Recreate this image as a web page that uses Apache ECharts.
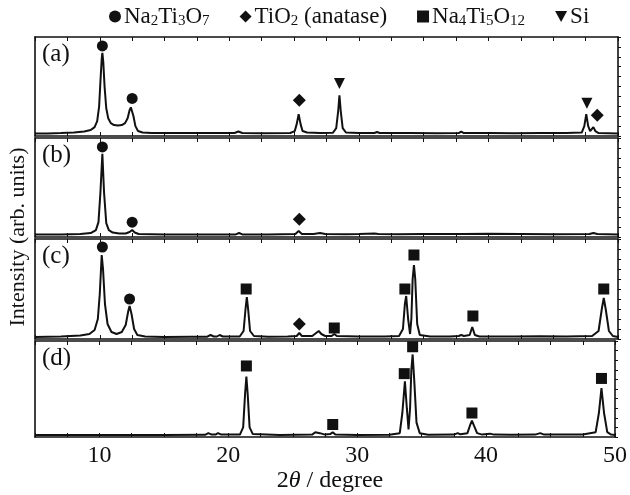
<!DOCTYPE html>
<html>
<head>
<meta charset="utf-8">
<script src="https://cdn.jsdelivr.net/npm/echarts@6/dist/echarts.min.js"></script>
<style>
  html, body { margin: 0; padding: 0; background: #fff; }
  #chart { width: 630px; height: 495px; }
</style>
</head>
<body>
<div id="chart"></div>
<script>
// tick labels on the 2theta axis
var xTickLabels = [10, 20, 30, 40, 50];
var panelNames = ['(a)', '(b)', '(c)', '(d)'];

// XRD traces, [2theta, intensity in % of panel height]
var curveA = [[5,2.5],[6,2.6],[7,3],[8,3.5],[8.8,4.5],[9.3,6],[9.6,9],[9.8,15],[9.95,30],[10.05,55],[10.15,78],[10.2,84],[10.27,75],[10.37,50],[10.5,28],[10.65,18],[10.85,13],[11.1,11],[11.4,10.5],[11.7,11],[11.95,13],[12.15,18],[12.3,26],[12.4,29],[12.5,27],[12.6,20],[12.75,10],[12.95,5],[13.3,3.5],[14,3],[16,3],[18,3],[20.4,3],[20.7,4.5],[21,3],[22.5,2.8],[24.7,3],[25.05,5],[25.2,12],[25.35,22],[25.5,12],[25.65,5],[26,3.5],[27,3],[28,3.3],[28.25,8],[28.4,25],[28.5,41],[28.6,25],[28.75,8],[29,3.5],[30,3],[31.2,3],[31.4,4],[31.6,3],[34,3],[36,2.8],[37.7,3],[37.9,4.5],[38.1,3],[40,3],[42,2.8],[44,3],[46,3],[47.2,3.5],[47.4,10],[47.55,22],[47.7,10],[47.85,5],[48.0,7],[48.1,9],[48.25,5],[48.5,3],[50,2.5]];
var curveB = [[5,2.4],[7,2.6],[8.5,3],[9.3,4],[9.7,7],[9.9,15],[10.05,45],[10.2,84],[10.33,45],[10.5,14],[10.7,7],[11,4.5],[11.5,3.5],[12,3.5],[12.3,5],[12.5,7],[12.7,4.5],[13,3],[15,2.6],[18,2.6],[20.5,2.6],[20.75,4],[21,2.6],[23,2.6],[25.1,3],[25.35,6],[25.6,3],[26.5,3],[27,4],[27.4,3],[29,2.8],[30,3],[31.2,3.5],[31.5,3],[33,2.8],[35,3],[38,3],[40,3.2],[45,2.8],[47.8,3],[48.1,4],[48.4,3],[50,2.6]];
var curveC = [[5,2],[7,2.5],[8.5,3.5],[9.2,5],[9.6,9],[9.85,20],[10.0,45],[10.15,84],[10.25,70],[10.4,35],[10.6,15],[10.9,7],[11.3,5],[11.7,7],[12.0,14],[12.2,28],[12.3,33],[12.45,25],[12.65,10],[12.9,4],[13.5,2.5],[15,2],[17,2.3],[18.3,2.3],[18.55,4],[18.8,2.5],[19.05,2.5],[19.25,4],[19.5,2.5],[20.8,2.5],[21.1,8],[21.25,30],[21.35,42],[21.45,30],[21.6,8],[21.9,3],[23,2.2],[24.5,2.5],[25.2,3],[25.4,6],[25.6,3],[26.4,3],[26.7,6],[26.9,8],[27.1,5],[27.4,3],[27.9,3],[28.1,5],[28.3,3],[30,2.5],[32,2.5],[33.1,3],[33.4,10],[33.55,35],[33.65,43],[33.8,20],[33.95,5],[34.05,20],[34.15,60],[34.25,74],[34.35,60],[34.5,15],[34.7,4],[35.5,2.5],[37,2.5],[37.7,3],[37.9,4],[38.1,3],[38.55,4],[38.75,12],[38.95,4],[39.3,2.5],[42,2.5],[44,2.8],[46,2.6],[48,3],[48.5,8],[48.75,30],[48.9,41],[49.05,30],[49.3,8],[49.6,3],[50,2]];
var curveD = [[5,2],[10,2],[15,2],[18.2,2.3],[18.45,4],[18.7,2.5],[19,2.5],[19.2,4],[19.45,2.5],[20.9,2.5],[21.15,10],[21.3,45],[21.4,63],[21.5,45],[21.65,10],[21.9,3],[24,2],[26.5,2.5],[26.75,5],[26.9,7],[27.1,4],[27.5,2.5],[27.9,3],[28.1,5],[28.3,2.5],[30,2],[32.5,2.3],[33.3,4],[33.5,25],[33.7,58],[33.85,30],[33.98,8],[34.1,30],[34.2,70],[34.3,86],[34.42,60],[34.6,15],[34.85,4],[35.5,2.3],[37.5,2.5],[37.8,4],[38,2.8],[38.55,4],[38.75,12],[38.9,17],[39.05,12],[39.3,4],[39.7,2.5],[40.3,3.5],[40.6,2.5],[42,2.3],[43.8,2.5],[44.2,4],[44.5,2.5],[47.5,2.5],[48.5,5],[48.75,25],[48.95,51],[49.15,25],[49.4,5],[49.7,2.5],[50,2]];

// phase markers above the peaks
var naTiA = [[10.2,91],[12.5,38]];
var tio2A = [[25.4,36],[48.4,21]];
var siA = [[28.5,53],[47.6,33]];
var naTiB = [[10.2,91],[12.5,15]];
var tio2B = [[25.4,18]];
var naTiC = [[10.2,92],[12.3,40]];
var tio2C = [[25.4,15]];
var na4C = [[21.3,50],[28.1,11],[33.55,50],[34.25,84],[38.8,23],[48.9,50]];
var na4D = [[21.4,74],[28.1,13],[33.65,66],[34.3,94],[38.9,25],[48.95,61]];

var curves = [curveA, curveB, curveC, curveD];
var markers = [
  [['Na2Ti3O7', naTiA], ['TiO2', tio2A], ['Si', siA]],
  [['Na2Ti3O7', naTiB], ['TiO2', tio2B]],
  [['Na2Ti3O7', naTiC], ['TiO2', tio2C], ['Na4Ti5O12', na4C]],
  [['Na4Ti5O12', na4D]]
];

var font = 'Liberation Serif';
var ink = '#111';
var triDown = 'path://M0,0L10,0L5,9Z';
var symbols = { 'Na2Ti3O7': 'circle', 'TiO2': 'diamond', 'Na4Ti5O12': 'rect', 'Si': triDown };
var symbolSizes = { 'Na2Ti3O7': 11, 'TiO2': 13, 'Na4Ti5O12': 11, 'Si': 11 };

var panelTop = [37, 138, 239, 341];
var panelHeight = [99, 99, 100, 96];

var myChart = echarts.init(document.getElementById('chart'));

var grids = [], xAxes = [], yAxes = [], series = [], graphics = [];
panelTop.forEach(function (top, i) {
  grids.push({ left: 35, right: 12, top: top, height: panelHeight[i] });
  var tick = { show: true, inside: true, length: 4, lineStyle: { color: ink, width: 1 } };
  var line = { show: true, onZero: false, lineStyle: { color: ink, width: 1.6 } };
  xAxes.push({
    gridIndex: i, type: 'value', min: 5, max: 50, interval: 2.5, position: 'bottom',
    axisLine: line, axisTick: tick, splitLine: { show: false },
    axisLabel: {
      show: i === 3, color: ink, fontFamily: font, fontSize: 24, margin: 7,
      formatter: function (v) { return xTickLabels.indexOf(v) >= 0 ? String(v) : ''; }
    }
  });
  xAxes.push({
    gridIndex: i, type: 'value', min: 5, max: 50, interval: 2.5, position: 'top',
    axisLine: line, axisTick: tick, axisLabel: { show: false }, splitLine: { show: false }
  });
  yAxes.push({
    gridIndex: i, type: 'value', min: 0, max: 100, position: 'left',
    axisLine: line, axisTick: { show: false }, axisLabel: { show: false }, splitLine: { show: false }
  });
  yAxes.push({
    gridIndex: i, type: 'value', min: 0, max: 100, interval: 10, position: 'right',
    axisLine: line, axisTick: { show: true, inside: false, length: 3, lineStyle: { color: ink } },
    axisLabel: { show: false }, splitLine: { show: false }
  });
  series.push({
    type: 'line', xAxisIndex: 2 * i, yAxisIndex: 2 * i, data: curves[i],
    showSymbol: false, silent: true, lineStyle: { color: ink, width: 2 }
  });
  markers[i].forEach(function (m) {
    series.push({
      name: m[0], type: 'scatter', xAxisIndex: 2 * i, yAxisIndex: 2 * i, data: m[1],
      symbol: symbols[m[0]], symbolSize: symbolSizes[m[0]],
      itemStyle: { color: ink, opacity: 1 }, z: 3
    });
  });
  graphics.push({
    type: 'text', left: 42, top: top + 5,
    style: { text: panelNames[i], font: '25px "' + font + '"', fill: ink }
  });
});

graphics.push({
  type: 'text', x: 18, y: 237, rotation: Math.PI / 2,
  style: { text: 'Intensity (arb. units)', font: '22px "' + font + '"', fill: ink, align: 'center', verticalAlign: 'middle' }
});
graphics.push({
  type: 'text', x: 330, y: 481,
  style: {
    text: '2{i|θ} / degree', font: '24px "' + font + '"', fill: ink, align: 'center', verticalAlign: 'middle',
    rich: { i: { fontStyle: 'italic', fontFamily: font, fontSize: 24, fill: ink } }
  }
});

var legendRich = {
  m: { fontFamily: font, fontSize: 23, lineHeight: 24, color: ink },
  s: { fontFamily: font, fontSize: 15, lineHeight: 14, verticalAlign: 'bottom', color: ink }
};
var legendText = {
  'Na2Ti3O7': '{m|Na}{s|2}{m|Ti}{s|3}{m|O}{s|7}',
  'TiO2': '{m|TiO}{s|2}{m| (anatase)}',
  'Na4Ti5O12': '{m|Na}{s|4}{m|Ti}{s|5}{m|O}{s|12}',
  'Si': '{m|Si}'
};

option = {
  animation: false,
  backgroundColor: '#fff',
  grid: grids,
  xAxis: xAxes,
  yAxis: yAxes,
  legend: {
    left: 104, top: 0, itemGap: 30, itemWidth: 12, itemHeight: 12,
    data: [
      { name: 'Na2Ti3O7', icon: 'circle' },
      { name: 'TiO2', icon: 'diamond' },
      { name: 'Na4Ti5O12', icon: 'rect' },
      { name: 'Si', icon: triDown }
    ],
    itemStyle: { color: ink, opacity: 1 },
    textStyle: { rich: legendRich, padding: [0, 0, 0, -2] },
    formatter: function (name) { return legendText[name]; }
  },
  graphic: graphics,
  series: series
};

myChart.setOption(option);
</script>
</body>
</html>
